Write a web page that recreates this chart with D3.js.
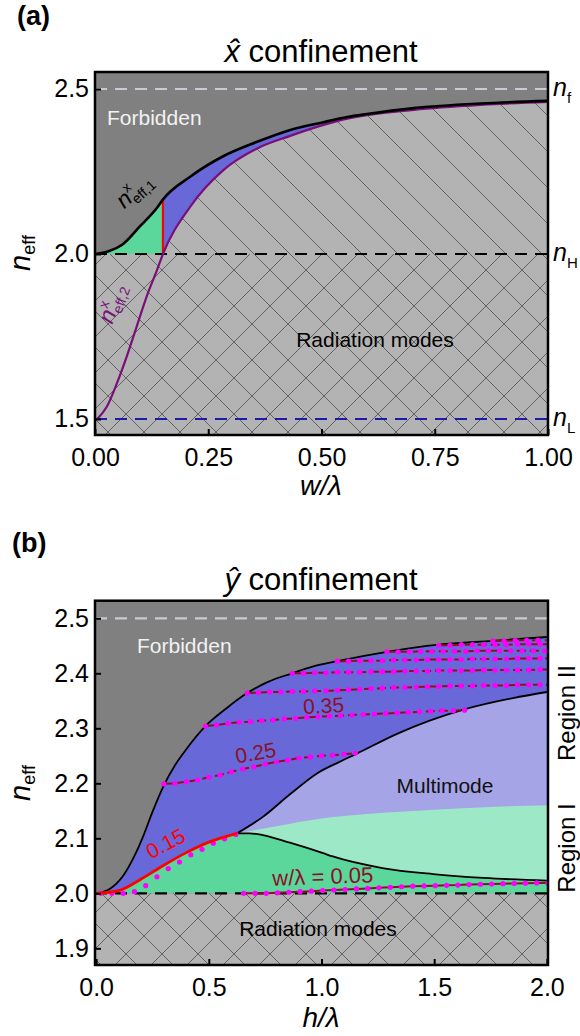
<!DOCTYPE html>
<html>
<head>
<meta charset="utf-8">
<script src="https://cdn.jsdelivr.net/npm/d3@7"></script>
<style>
  body { margin: 0; background: #fff; }
  svg text { font-family: "Liberation Sans", Arial, Helvetica, sans-serif; }
</style>
</head>
<body>
<svg id="chart" width="580" height="1036"></svg>
<script>
// ---- panel (a): x confinement ----
const wEff1 = [0, 0.03, 0.06, 0.1, 0.137, 0.15, 0.21, 0.284, 0.358, 0.431, 0.5, 0.557, 0.6, 0.704, 0.852, 1.0];
const nEff1 = [2.0, 2.008, 2.028, 2.085, 2.14, 2.165, 2.234, 2.297, 2.34, 2.376, 2.398, 2.415, 2.424, 2.442, 2.456, 2.464];
const wEff2 = [0.005, 0.026, 0.048, 0.07, 0.092, 0.114, 0.137, 0.15, 0.21, 0.284, 0.358, 0.431, 0.557, 0.704, 0.852, 1.0];
const nEff2 = [1.5, 1.537, 1.607, 1.689, 1.78, 1.871, 1.952, 2.0, 2.143, 2.255, 2.32, 2.358, 2.41, 2.437, 2.452, 2.461];
const wSingleCut = 0.15;
const xTicksA = [0, 0.25, 0.5, 0.75, 1.0];
const yTicksA = [1.5, 2.0, 2.5];
const levelsA = [2.5, 2.0, 1.5];
const levelNames = ['f', 'H', 'L'];

// ---- panel (b): y confinement ----
const hTop = [0, 0.06, 0.12, 0.17, 0.21, 0.25, 0.30, 0.35, 0.40, 0.485, 0.58, 0.67, 0.76, 0.87, 0.96, 1.07, 1.29, 1.52, 1.76, 2.0];
const nTop = [2.0, 2.008, 2.032, 2.068, 2.105, 2.148, 2.196, 2.233, 2.262, 2.304, 2.337, 2.364, 2.384, 2.40, 2.412, 2.422, 2.439, 2.452, 2.459, 2.466];
const hRed = [0, 0.1, 0.2, 0.3, 0.4, 0.5, 0.625];
const nRed = [2.0, 2.005, 2.026, 2.051, 2.074, 2.093, 2.109];
const hMulti = [0.625, 0.74, 0.86, 0.98, 1.08, 1.157, 1.335, 1.63, 1.85, 2.0];
const nMulti = [2.109, 2.139, 2.18, 2.218, 2.239, 2.254, 2.29, 2.334, 2.355, 2.366];
const hLight = [0.625, 0.8, 1.0, 1.2, 1.5, 1.75, 2.0];
const nLight = [2.109, 2.122, 2.136, 2.144, 2.152, 2.157, 2.16];
const hLow = [0.625, 0.68, 0.74, 0.86, 1.007, 1.05, 1.27, 1.495, 1.72, 2.0];
const nLow = [2.109, 2.109, 2.106, 2.092, 2.073, 2.067, 2.046, 2.035, 2.028, 2.023];

// w/lambda contours, sampled every 0.05 in h/lambda from a start value
const contourW = ['0.05', '0.15', '0.25', '0.35', '0.45', '0.55', '0.65', '0.75', '0.85', '0.95'];
const contourH0 = [0.655, 0.02, 0.30, 0.485, 0.67, 0.87, 1.07, 1.29, 1.52, 1.76];
const contourN = [
  [2.000, 2.000, 2.000, 2.001, 2.002, 2.003, 2.004, 2.005, 2.006, 2.007, 2.008, 2.009, 2.010, 2.011, 2.012, 2.013, 2.0135, 2.014, 2.0145, 2.015, 2.016, 2.0165, 2.017, 2.0175, 2.018, 2.0185, 2.019, 2.019],
  [2.000, 2.000, 2.000, 2.003, 2.014, 2.030, 2.045, 2.057, 2.070, 2.080, 2.091, 2.099, 2.107],
  [2.199, 2.200, 2.203, 2.206, 2.211, 2.215, 2.221, 2.226, 2.230, 2.235, 2.239, 2.242, 2.246, 2.248, 2.250, 2.251, 2.253, 2.255],
  [2.304, 2.306, 2.309, 2.311, 2.312, 2.314, 2.315, 2.317, 2.318, 2.320, 2.321, 2.322, 2.323, 2.324, 2.325, 2.326, 2.327, 2.328, 2.329, 2.330, 2.331, 2.332, 2.332, 2.333],
  [2.364, 2.365, 2.366, 2.366, 2.367, 2.367, 2.368, 2.368, 2.369, 2.370, 2.371, 2.372, 2.373, 2.374, 2.374, 2.375, 2.376, 2.376, 2.377, 2.377, 2.377, 2.378, 2.378, 2.378, 2.379, 2.379, 2.379, 2.379],
  [2.400, 2.400, 2.401, 2.401, 2.402, 2.402, 2.402, 2.403, 2.403, 2.403, 2.404, 2.404, 2.404, 2.405, 2.405, 2.405, 2.405, 2.406, 2.406, 2.406, 2.406, 2.406, 2.407, 2.407],
  [2.422, 2.422, 2.423, 2.423, 2.423, 2.424, 2.424, 2.424, 2.425, 2.425, 2.425, 2.425, 2.426, 2.426, 2.426, 2.426, 2.427, 2.427, 2.427, 2.427],
  [2.439, 2.439, 2.439, 2.440, 2.440, 2.440, 2.440, 2.440, 2.441, 2.441, 2.441, 2.441, 2.441, 2.441, 2.441, 2.441],
  [2.451, 2.451, 2.452, 2.452, 2.452, 2.452, 2.452, 2.453, 2.453, 2.453, 2.453],
  [2.459, 2.459, 2.460, 2.460, 2.460, 2.460]
];
const xTicksB = [0, 0.5, 1.0, 1.5, 2.0];
const yTicksB = [1.9, 2.0, 2.1, 2.2, 2.3, 2.4, 2.5];
const levelsB = [2.5, 2.0];

const FONT = '"Liberation Sans", Arial, Helvetica, sans-serif';
const C = {
  forbid: '#808080', rad: '#b3b3b3', hatch: '#595959',
  blue: '#6868d8', lilac: '#a4a4e6', mint: '#9de8c6', green: '#5bd79b',
  purple: '#7a0f7a', red: '#ff0000', maroon: '#8c0f2a', dot: '#ff00ff',
  nf: '#cfc6d6', nL: '#1c1ca8'
};

const svg = d3.select('#chart');
const defs = svg.append('defs');

const zip = (xs, ys) => xs.map((v, i) => [v, ys[i]]);

const makeHatch = (id, both) => {
  const p = defs.append('pattern').attr('id', id)
    .attr('patternUnits', 'userSpaceOnUse').attr('width', 36).attr('height', 36);
  p.append('rect').attr('width', 36).attr('height', 36).attr('fill', C.rad);
  let d = 'M0,0L36,36M-18,18L18,54M18,-18L54,18';
  if (both) d += 'M36,0L0,36M18,-18L-18,18M54,18L18,54';
  p.append('path').attr('d', d).attr('fill', 'none')
    .attr('stroke', C.hatch).attr('stroke-width', 0.9);
};
makeHatch('hatch1', false);
makeHatch('hatch2', true);

const addClip = (id, x0, y0, x1, y1) => {
  defs.append('clipPath').attr('id', id).append('rect')
    .attr('x', x0).attr('y', y0).attr('width', x1 - x0).attr('height', y1 - y0);
};

const axes = (g, x, y, xTicks, yTicks, xFmt, yFmt) => {
  const [y0] = y.range();
  const [x0] = x.range();
  g.append('g').attr('transform', `translate(0,${y0})`)
    .call(d3.axisBottom(x).tickValues(xTicks).tickFormat(xFmt)
      .tickSizeInner(-6).tickSizeOuter(0).tickPadding(13))
    .call(s => s.select('.domain').remove())
    .call(s => s.selectAll('line').attr('stroke-width', 2))
    .attr('font-size', 25).attr('font-family', FONT);
  g.append('g').attr('transform', `translate(${x0},0)`)
    .call(d3.axisLeft(y).tickValues(yTicks).tickFormat(yFmt)
      .tickSizeInner(-6).tickSizeOuter(0).tickPadding(6))
    .call(s => s.select('.domain').remove())
    .call(s => s.selectAll('line').attr('stroke-width', 2))
    .attr('font-size', 25).attr('font-family', FONT);
};

const frame = (g, x, y) => {
  const [xa, xb] = x.range(), [ya, yb] = y.range();
  g.append('rect').attr('x', xa).attr('y', yb).attr('width', xb - xa).attr('height', ya - yb)
    .attr('fill', 'none').attr('stroke', '#000').attr('stroke-width', 2.5);
};

const level = (g, x, y, n, color) => {
  g.append('line').attr('x1', x.range()[0]).attr('x2', x.range()[1])
    .attr('y1', y(n)).attr('y2', y(n))
    .attr('stroke', color).attr('stroke-width', 2.2).attr('stroke-dasharray', '12,8');
};

const neffLabel = (g, cx, cy) => {
  const t = g.append('text').attr('transform', `translate(${cx},${cy}) rotate(-90)`)
    .attr('text-anchor', 'middle');
  t.append('tspan').attr('font-style', 'italic').attr('font-size', 29).text('n');
  t.append('tspan').attr('font-size', 18).attr('dy', 5).text('eff');
};

const title = (g, cx, base, sym) => {
  const t = g.append('text').attr('x', cx).attr('y', base).attr('text-anchor', 'middle').attr('font-size', 31);
  t.append('tspan').attr('font-style', 'italic').text(sym + '\u0302');
  t.append('tspan').text(' confinement');
};

const xLabel = (g, cx, base, sym) => {
  g.append('text').attr('x', cx).attr('y', base).attr('text-anchor', 'middle')
    .attr('font-size', 28).attr('font-style', 'italic').text(sym + '/\u03bb');
};

const plain = (g, x, y, txt, size, fill, anchor) =>
  g.append('text').attr('x', x).attr('y', y).attr('font-size', size)
    .attr('fill', fill).attr('text-anchor', anchor || 'start').text(txt);

// ================= panel (a) =================
const xA = d3.scaleLinear().domain([0, 1]).range([95, 548]);
const yA = d3.scaleLinear().domain([1.4515, 2.5515]).range([435, 72]);
addClip('clipA', 95, 72, 548, 435);
addClip('clipGreenA', 95, 72, xA(wSingleCut), 435);
addClip('clipAbove2A', 95, 72, 548, yA(2.0));

const gA = svg.append('g');
plain(gA, 17, 25, '(a)', 27, '#000').attr('font-weight', 'bold');
title(gA, 321, 62, 'x');

const plotA = gA.append('g').attr('clip-path', 'url(#clipA)');
plotA.append('rect').attr('x', 95).attr('y', 72).attr('width', 453).attr('height', 363).attr('fill', C.forbid);

const ptsA1 = zip(wEff1, nEff1);
const ptsA2 = zip(wEff2, nEff2);
const areaA = d3.area().x(d => xA(d[0])).y0(yA(2.0)).y1(d => yA(d[1])).curve(d3.curveMonotoneX);
const lineA = d3.line().x(d => xA(d[0])).y(d => yA(d[1])).curve(d3.curveMonotoneX);

plotA.append('path').attr('d', areaA(ptsA1)).attr('fill', C.blue);
plotA.append('path').attr('d', areaA(ptsA1)).attr('fill', C.green).attr('clip-path', 'url(#clipGreenA)');
plotA.append('g').attr('clip-path', 'url(#clipAbove2A)')
  .append('path').attr('d', areaA(ptsA2.concat([[1.0, 2.0]]))).attr('fill', 'url(#hatch1)');
plotA.append('rect').attr('x', 95).attr('y', yA(2.0)).attr('width', 453).attr('height', 435 - yA(2.0))
  .attr('fill', 'url(#hatch2)');

levelsA.forEach((n, i) => level(plotA, xA, yA, n, [C.nf, '#000', C.nL][i]));

const nCut = nEff1[wEff1.indexOf(wSingleCut)];
plotA.append('line').attr('x1', xA(wSingleCut)).attr('x2', xA(wSingleCut))
  .attr('y1', yA(2.0)).attr('y2', yA(nCut)).attr('stroke', C.red).attr('stroke-width', 2.2);
plotA.append('path').attr('d', lineA(ptsA2)).attr('fill', 'none').attr('stroke', C.purple).attr('stroke-width', 2.2);
plotA.append('path').attr('d', lineA(ptsA1)).attr('fill', 'none').attr('stroke', '#000').attr('stroke-width', 2.6);

plain(plotA, 107, 125, 'Forbidden', 21, '#f2f2f2');
plain(plotA, 375, 347, 'Radiation modes', 21, '#000', 'middle');

// curve labels
const curveLabel = (g, cx, cy, rot, fill, idx) => {
  const t = g.append('text').attr('transform', `translate(${cx},${cy}) rotate(${rot})`)
    .attr('text-anchor', 'middle').attr('fill', fill);
  t.append('tspan').attr('font-style', 'italic').attr('font-size', 23).text('n');
  t.append('tspan').attr('font-size', 14).attr('dy', -10).text('x');
  t.append('tspan').attr('font-size', 14).attr('dx', -7).attr('dy', 15).text('eff,' + idx);
};
curveLabel(gA, 139, 196, -42, '#000', 1);
curveLabel(gA, 119, 306, -70, C.purple, 2);

frame(gA, xA, yA);
axes(gA, xA, yA, xTicksA, yTicksA, d3.format('.2f'), d3.format('.1f'));
neffLabel(gA, 30, 253);
xLabel(gA, 321, 495, 'w');

levelsA.forEach((n, i) => {
  const t = gA.append('text').attr('x', 553).attr('y', yA(n) + 7);
  t.append('tspan').attr('font-style', 'italic').attr('font-size', 25).text('n');
  t.append('tspan').attr('font-size', 15).attr('dy', 7).text(levelNames[i]);
});

// ================= panel (b) =================
const xB = d3.scaleLinear().domain([-0.005, 2.005]).range([95, 548]);
const yB = d3.scaleLinear().domain([1.8697, 2.532]).range([965, 600.7]);
addClip('clipB', 95, 600.7, 548, 965);

const gB = svg.append('g');
plain(gB, 12, 552, '(b)', 27, '#000').attr('font-weight', 'bold');
title(gB, 321, 590, 'y');

const plotB = gB.append('g').attr('clip-path', 'url(#clipB)');
plotB.append('rect').attr('x', 95).attr('y', 600.7).attr('width', 453).attr('height', 365).attr('fill', C.forbid);

const areaB = d3.area().x(d => xB(d[0])).y0(yB(2.0)).y1(d => yB(d[1])).curve(d3.curveMonotoneX);
const lineB = d3.line().x(d => xB(d[0])).y(d => yB(d[1])).curve(d3.curveMonotoneX);

const ptsTop = zip(hTop, nTop), ptsRed = zip(hRed, nRed), ptsMulti = zip(hMulti, nMulti);
const ptsLight = zip(hLight, nLight), ptsLow = zip(hLow, nLow);

plotB.append('path').attr('d', areaB(ptsTop)).attr('fill', C.blue);
plotB.append('path').attr('d', areaB(ptsMulti)).attr('fill', C.lilac);
plotB.append('path').attr('d', areaB(ptsLight)).attr('fill', C.mint);
const greenD = lineB(ptsRed) + lineB(ptsLow).replace(/^M/, 'L') +
  `L${xB(2.0)},${yB(2.0)}L${xB(0)},${yB(2.0)}Z`;
plotB.append('path').attr('d', greenD).attr('fill', C.green);
plotB.append('rect').attr('x', 95).attr('y', yB(2.0)).attr('width', 453).attr('height', 965 - yB(2.0))
  .attr('fill', 'url(#hatch2)');

levelsB.forEach((n, i) => level(plotB, xB, yB, n, [C.nf, '#000'][i]));

[ptsTop, ptsMulti, ptsLow].forEach(p => {
  plotB.append('path').attr('d', lineB(p)).attr('fill', 'none').attr('stroke', '#000').attr('stroke-width', 1.8);
});

// contours of constant w/lambda
contourW.forEach((w, k) => {
  const pts = contourN[k].map((n, i) => [+(contourH0[k] + 0.05 * i).toFixed(3), n]);
  if (w !== '0.15') {
    plotB.append('path').attr('d', d3.line().x(d => xB(d[0])).y(d => yB(d[1]))(pts))
      .attr('fill', 'none').attr('stroke', C.maroon).attr('stroke-width', 2)
      .attr('stroke-dasharray', w === '0.05' ? null : '9,4');
  }
  plotB.append('g').selectAll('circle').data(pts).join('circle')
    .attr('cx', d => xB(d[0])).attr('cy', d => yB(d[1])).attr('r', 2.6).attr('fill', C.dot);
});
plotB.append('path').attr('d', lineB(ptsRed)).attr('fill', 'none').attr('stroke', C.red).attr('stroke-width', 2.8);

plain(plotB, 137, 653, 'Forbidden', 21, '#f2f2f2');
plain(plotB, 445, 793, 'Multimode', 21, '#111', 'middle');
plain(plotB, 318, 936, 'Radiation modes', 21, '#000', 'middle');

const rotLabel = (g, cx, cy, rot, txt, fill, size) =>
  g.append('text').attr('transform', `translate(${cx},${cy}) rotate(${rot})`)
    .attr('text-anchor', 'middle').attr('font-size', size).attr('fill', fill).text(txt);
rotLabel(plotB, 169, 850, -28, '0.15', C.red, 21);
rotLabel(plotB, 257, 760, -10, '0.25', C.maroon, 21);
rotLabel(plotB, 324, 713, -3, '0.35', C.maroon, 21);
rotLabel(plotB, 323, 884, -2, 'w/\u03bb = 0.05', C.maroon, 22);

frame(gB, xB, yB);
axes(gB, xB, yB, xTicksB, yTicksB, d3.format('.1f'), d3.format('.1f'));
neffLabel(gB, 30, 783);
xLabel(gB, 321, 1027, 'h');

rotLabel(gB, 575, 713, -90, 'Region II', '#000', 24);
rotLabel(gB, 575, 848, -90, 'Region I', '#000', 24);
</script>
</body>
</html>
